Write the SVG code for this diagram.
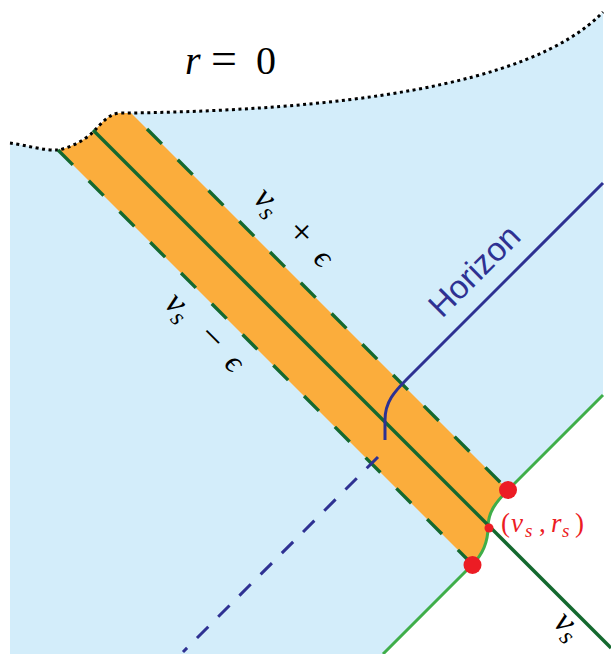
<svg xmlns="http://www.w3.org/2000/svg" width="611" height="654" viewBox="0 0 611 654">
<defs>
<style>
.dg{fill:none;stroke:#14692f;stroke-width:3.4;}
.dash{stroke-dasharray:21 22.5;}
.hz{fill:none;stroke:#2e3192;stroke-width:3;}
.dot{fill:#ec1c24;}
</style>
</defs>
<rect width="611" height="654" fill="#ffffff"/>
<g id="region">
<path d="M10,143 C25,145 45,151 58,150 C70,148 85,140 93,132 C102,123 108,114 120,113 L131,113 C330,110 530,88 603,12 L603,395 L508,490 C496,502 488,512 488,527 C488,544 481,556 472.5,564.5 L383,654 L10,654 Z" fill="#d3edfa"/>
</g>
<g id="band">
<path d="M58,150 C70,148 85,140 93,132 C102,123 108,114 120,113 L131,113 L508,490 C496,502 488,512 488,527 C488,544 481,556 472.5,564.5 Z" fill="#fbad3c"/>
</g>
<g id="singularity">
<path d="M10,143 C25,145 45,151 58,150 C70,148 85,140 93,132 C102,123 108,114 120,113 L131,113 C330,110 530,88 603,12" fill="none" stroke="#000" stroke-width="3" stroke-dasharray="3 3.5"/>
</g>
<g id="connectors">
<path id="green-boundary" d="M603,395 L508,490 C496,502 488,512 488,527 C488,544 481,556 472.5,564.5 L383,654" fill="none" stroke="#3fae49" stroke-width="3"/>
<path id="vs-plus" class="dg dash" d="M147,129 L508,490"/>
<path id="vs-minus" class="dg dash" d="M58,150 L472.5,564.5"/>
<path id="vs" class="dg" d="M93,130 L611,648"/>
<path id="horizon" class="hz" d="M603,183 L408,378 C394,392 385,402 385,420 L385,440"/>
<path id="horizon-dashed" class="hz" stroke-dasharray="16 14" d="M378,457 L183,652"/>
</g>
<g id="points">
<circle class="dot" cx="508" cy="490" r="9"/>
<circle class="dot" cx="472.5" cy="565" r="9"/>
<circle class="dot" cx="489" cy="528" r="4.5"/>
</g>
<g id="labels" font-family="'Liberation Serif', 'DejaVu Serif', serif">
<text y="74" font-size="40"><tspan font-style="italic" x="185">r</tspan><tspan x="211" font-size="46">=</tspan><tspan x="256">0</tspan></text>
<text font-size="35" transform="translate(252,200) rotate(45)"><tspan font-style="italic" x="0">v</tspan><tspan font-style="italic" x="15" dy="6" font-size="25">s</tspan><tspan x="47" dy="-6" font-size="38">+</tspan><tspan font-style="italic" x="85" font-size="32">ϵ</tspan></text>
<text font-size="35" transform="translate(163,305) rotate(45)"><tspan font-style="italic" x="0">v</tspan><tspan font-style="italic" x="15" dy="6" font-size="25">s</tspan><tspan x="47" dy="-6" font-size="38">−</tspan><tspan font-style="italic" x="85" font-size="32">ϵ</tspan></text>
<text font-size="35" transform="translate(552,624) rotate(45)"><tspan font-style="italic" x="0">v</tspan><tspan font-style="italic" x="15" dy="6" font-size="25">s</tspan></text>
<text font-size="27" fill="#ec1c24" y="532"><tspan x="501">(</tspan><tspan font-style="italic" x="511">v</tspan><tspan font-style="italic" x="525" dy="5" font-size="19">s</tspan><tspan x="539" dy="-5">,</tspan><tspan font-style="italic" x="551">r</tspan><tspan font-style="italic" x="562" dy="5" font-size="19">s</tspan><tspan x="575" dy="-5">)</tspan></text>
<text font-family="'Liberation Sans', Arial, sans-serif" font-size="33" fill="#2e3192" transform="translate(442,319) rotate(-45)">Horizon</text>
</g>
</svg>
